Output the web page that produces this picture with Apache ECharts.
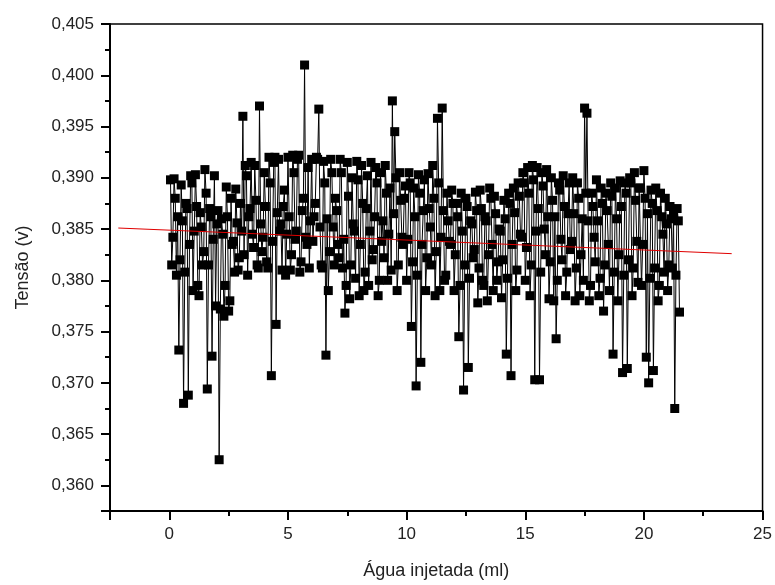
<!DOCTYPE html>
<html>
<head>
<meta charset="utf-8">
<script src="https://cdn.jsdelivr.net/npm/echarts@6/dist/echarts.min.js"></script>
<style>
  html, body { margin: 0; padding: 0; background: #fff; }
  #chart { width: 775px; height: 585px; }
</style>
</head>
<body>
<div id="chart"></div>
<script>
// agua injetada (ml)
var agua = [
  0.05, 0.10, 0.15, 0.20, 0.25, 0.30, 0.35, 0.40, 0.45, 0.50, 0.55, 0.60, 0.65, 0.70, 0.75, 0.80, 0.85, 0.90, 0.95, 1.00,
  1.05, 1.10, 1.15, 1.20, 1.25, 1.30, 1.35, 1.40, 1.45, 1.50, 1.55, 1.60, 1.65, 1.70, 1.75, 1.80, 1.85, 1.90, 1.95, 2.00,
  2.05, 2.10, 2.15, 2.20, 2.25, 2.30, 2.35, 2.40, 2.45, 2.50, 2.55, 2.60, 2.65, 2.70, 2.75, 2.80, 2.85, 2.90, 2.95, 3.00,
  3.05, 3.10, 3.15, 3.20, 3.25, 3.30, 3.35, 3.40, 3.45, 3.50, 3.55, 3.60, 3.65, 3.70, 3.75, 3.80, 3.85, 3.90, 3.95, 4.00,
  4.05, 4.10, 4.15, 4.20, 4.25, 4.30, 4.35, 4.40, 4.45, 4.50, 4.55, 4.60, 4.65, 4.70, 4.75, 4.80, 4.85, 4.90, 4.95, 5.00,
  5.05, 5.10, 5.15, 5.20, 5.25, 5.30, 5.35, 5.40, 5.45, 5.50, 5.55, 5.60, 5.65, 5.70, 5.75, 5.80, 5.85, 5.90, 5.95, 6.00,
  6.05, 6.10, 6.15, 6.20, 6.25, 6.30, 6.35, 6.40, 6.45, 6.50, 6.55, 6.60, 6.65, 6.70, 6.75, 6.80, 6.85, 6.90, 6.95, 7.00,
  7.05, 7.10, 7.15, 7.20, 7.25, 7.30, 7.35, 7.40, 7.45, 7.50, 7.55, 7.60, 7.65, 7.70, 7.75, 7.80, 7.85, 7.90, 7.95, 8.00,
  8.05, 8.10, 8.15, 8.20, 8.25, 8.30, 8.35, 8.40, 8.45, 8.50, 8.55, 8.60, 8.65, 8.70, 8.75, 8.80, 8.85, 8.90, 8.95, 9.00,
  9.05, 9.10, 9.15, 9.20, 9.25, 9.30, 9.35, 9.40, 9.45, 9.50, 9.55, 9.60, 9.65, 9.70, 9.75, 9.80, 9.85, 9.90, 9.95, 10.00,
  10.05, 10.10, 10.15, 10.20, 10.25, 10.30, 10.35, 10.40, 10.45, 10.50, 10.55, 10.60, 10.65, 10.70, 10.75, 10.80, 10.85, 10.90, 10.95, 11.00,
  11.05, 11.10, 11.15, 11.20, 11.25, 11.30, 11.35, 11.40, 11.45, 11.50, 11.55, 11.60, 11.65, 11.70, 11.75, 11.80, 11.85, 11.90, 11.95, 12.00,
  12.05, 12.10, 12.15, 12.20, 12.25, 12.30, 12.35, 12.40, 12.45, 12.50, 12.55, 12.60, 12.65, 12.70, 12.75, 12.80, 12.85, 12.90, 12.95, 13.00,
  13.05, 13.10, 13.15, 13.20, 13.25, 13.30, 13.35, 13.40, 13.45, 13.50, 13.55, 13.60, 13.65, 13.70, 13.75, 13.80, 13.85, 13.90, 13.95, 14.00,
  14.05, 14.10, 14.15, 14.20, 14.25, 14.30, 14.35, 14.40, 14.45, 14.50, 14.55, 14.60, 14.65, 14.70, 14.75, 14.80, 14.85, 14.90, 14.95, 15.00,
  15.05, 15.10, 15.15, 15.20, 15.25, 15.30, 15.35, 15.40, 15.45, 15.50, 15.55, 15.60, 15.65, 15.70, 15.75, 15.80, 15.85, 15.90, 15.95, 16.00,
  16.05, 16.10, 16.15, 16.20, 16.25, 16.30, 16.35, 16.40, 16.45, 16.50, 16.55, 16.60, 16.65, 16.70, 16.75, 16.80, 16.85, 16.90, 16.95, 17.00,
  17.05, 17.10, 17.15, 17.20, 17.25, 17.30, 17.35, 17.40, 17.45, 17.50, 17.55, 17.60, 17.65, 17.70, 17.75, 17.80, 17.85, 17.90, 17.95, 18.00,
  18.05, 18.10, 18.15, 18.20, 18.25, 18.30, 18.35, 18.40, 18.45, 18.50, 18.55, 18.60, 18.65, 18.70, 18.75, 18.80, 18.85, 18.90, 18.95, 19.00,
  19.05, 19.10, 19.15, 19.20, 19.25, 19.30, 19.35, 19.40, 19.45, 19.50, 19.55, 19.60, 19.65, 19.70, 19.75, 19.80, 19.85, 19.90, 19.95, 20.00,
  20.05, 20.10, 20.15, 20.20, 20.25, 20.30, 20.35, 20.40, 20.45, 20.50, 20.55, 20.60, 20.65, 20.70, 20.75, 20.80, 20.85, 20.90, 20.95, 21.00,
  21.05, 21.10, 21.15, 21.20, 21.25, 21.30, 21.35, 21.40, 21.45, 21.50
];
// tensao (v)
var tensao = [
  0.3898, 0.3815, 0.3842, 0.3899, 0.3880, 0.3805, 0.3862, 0.3732, 0.3820, 0.3893, 0.3858, 0.3680, 0.3808, 0.3875, 0.3870, 0.3688, 0.3835, 0.3902, 0.3895, 0.3790,
  0.3848, 0.3903, 0.3872, 0.3795, 0.3785, 0.3866, 0.3852, 0.3815, 0.3828, 0.3908, 0.3885, 0.3694, 0.3815, 0.3870, 0.3862, 0.3726, 0.3840, 0.3902, 0.3775, 0.3855,
  0.3868, 0.3625, 0.3772, 0.3860, 0.3845, 0.3765, 0.3795, 0.3891, 0.3862, 0.3770, 0.3780, 0.3880, 0.3835, 0.3838, 0.3808, 0.3889, 0.3856, 0.3810, 0.3822, 0.3875,
  0.3848, 0.3960, 0.3825, 0.3912, 0.3902, 0.3805, 0.3862, 0.3870, 0.3915, 0.3845, 0.3832, 0.3912, 0.3878, 0.3815, 0.3812, 0.3970, 0.3855, 0.3828, 0.3842, 0.3905,
  0.3872, 0.3818, 0.3812, 0.3920, 0.3895, 0.3707, 0.3838, 0.3915, 0.3920, 0.3757, 0.3866, 0.3918, 0.3848, 0.3855, 0.3810, 0.3872, 0.3888, 0.3805, 0.3845, 0.3920,
  0.3862, 0.3810, 0.3825, 0.3922, 0.3905, 0.3840, 0.3848, 0.3918, 0.3922, 0.3808, 0.3818, 0.3868, 0.3880, 0.4010, 0.3842, 0.3835, 0.3910, 0.3812, 0.3858, 0.3918,
  0.3838, 0.3862, 0.3875, 0.3920, 0.3918, 0.3967, 0.3852, 0.3815, 0.3812, 0.3916, 0.3895, 0.3727, 0.3860, 0.3790, 0.3828, 0.3918, 0.3905, 0.3852, 0.3815, 0.3880,
  0.3868, 0.3835, 0.3822, 0.3918, 0.3905, 0.3812, 0.3840, 0.3768, 0.3795, 0.3915, 0.3882, 0.3782, 0.3815, 0.3900, 0.3855, 0.3848, 0.3802, 0.3916, 0.3898, 0.3785,
  0.3835, 0.3912, 0.3875, 0.3790, 0.3808, 0.3870, 0.3902, 0.3795, 0.3848, 0.3915, 0.3820, 0.3830, 0.3862, 0.3910, 0.3895, 0.3785, 0.3800, 0.3905, 0.3838, 0.3858,
  0.3822, 0.3912, 0.3885, 0.3800, 0.3845, 0.3890, 0.3810, 0.3975, 0.3865, 0.3945, 0.3900, 0.3790, 0.3815, 0.3905, 0.3878, 0.3842, 0.3835, 0.3880, 0.3892, 0.3800,
  0.3840, 0.3905, 0.3895, 0.3755, 0.3818, 0.3890, 0.3862, 0.3697, 0.3805, 0.3903, 0.3885, 0.3720, 0.3835, 0.3868, 0.3898, 0.3790, 0.3822, 0.3904, 0.3870, 0.3852,
  0.3815, 0.3912, 0.3880, 0.3785, 0.3828, 0.3958, 0.3895, 0.3790, 0.3842, 0.3968, 0.3868, 0.3800, 0.3805, 0.3885, 0.3858, 0.3838, 0.3835, 0.3888, 0.3875, 0.3790,
  0.3825, 0.3875, 0.3862, 0.3745, 0.3795, 0.3885, 0.3848, 0.3693, 0.3815, 0.3880, 0.3872, 0.3715, 0.3802, 0.3858, 0.3855, 0.3822, 0.3830, 0.3886, 0.3868, 0.3778,
  0.3812, 0.3888, 0.3870, 0.3800, 0.3795, 0.3862, 0.3858, 0.3780, 0.3825, 0.3890, 0.3880, 0.3835, 0.3790, 0.3882, 0.3865, 0.3800, 0.3818, 0.3850, 0.3848, 0.3783,
  0.3820, 0.3878, 0.3860, 0.3728, 0.3802, 0.3885, 0.3875, 0.3707, 0.3835, 0.3890, 0.3866, 0.3790, 0.3810, 0.3895, 0.3882, 0.3845, 0.3842, 0.3905, 0.3895, 0.3800,
  0.3832, 0.3910, 0.3885, 0.3785, 0.3815, 0.3912, 0.3898, 0.3703, 0.3848, 0.3910, 0.3870, 0.3703, 0.3808, 0.3905, 0.3892, 0.3850, 0.3825, 0.3908, 0.3862, 0.3782,
  0.3818, 0.3900, 0.3878, 0.3780, 0.3862, 0.3743, 0.3800, 0.3895, 0.3888, 0.3840, 0.3820, 0.3902, 0.3872, 0.3785, 0.3808, 0.3865, 0.3895, 0.3830, 0.3838, 0.3900,
  0.3865, 0.3780, 0.3812, 0.3895, 0.3880, 0.3785, 0.3825, 0.3860, 0.3800, 0.3968, 0.3885, 0.3963, 0.3858, 0.3780, 0.3795, 0.3885, 0.3872, 0.3842, 0.3818, 0.3898,
  0.3858, 0.3785, 0.3802, 0.3890, 0.3875, 0.3770, 0.3815, 0.3885, 0.3868, 0.3835, 0.3790, 0.3895, 0.3882, 0.3728, 0.3808, 0.3890, 0.3860, 0.3780, 0.3825, 0.3897,
  0.3872, 0.3710, 0.3805, 0.3895, 0.3885, 0.3714, 0.3820, 0.3900, 0.3895, 0.3785, 0.3812, 0.3905, 0.3878, 0.3838, 0.3798, 0.3890, 0.3890, 0.3795, 0.3835, 0.3907,
  0.3880, 0.3725, 0.3865, 0.3700, 0.3802, 0.3888, 0.3875, 0.3712, 0.3812, 0.3890, 0.3868, 0.3780, 0.3795, 0.3885, 0.3862, 0.3845, 0.3808, 0.3880, 0.3855, 0.3790,
  0.3815, 0.3872, 0.3860, 0.3812, 0.3865, 0.3675, 0.3805, 0.3870, 0.3858, 0.3769
];
// linear fit (red line) end points
var ajusteX = [-2.15, 23.7];
var ajusteY = [0.3851, 0.3826];

var textColor = '#222';
var fontFam = '"Liberation Sans", Arial, sans-serif';

function fmtY(v) {
    var r = Math.round(v * 1000);
    if (Math.abs(v * 1000 - r) > 1e-6 || r % 5 !== 0) return '';
    return (r / 1000).toFixed(3).replace('.', ',');
}

var myChart = echarts.init(document.getElementById('chart'));
myChart.setOption({
    animation: false,
    backgroundColor: '#fff',
    grid: {
        left: 110, right: 10, top: 24, bottom: 72,
        show: true, borderColor: '#000', borderWidth: 1.5
    },
    xAxis: [{
        type: 'value', position: 'bottom',
        min: -2.5, max: 25, splitNumber: 5,
        axisLine: { onZero: false, lineStyle: { color: '#000', width: 2 } },
        axisTick: { show: true, length: 9, lineStyle: { color: '#000', width: 2 } },
        axisLabel: {
            color: textColor, fontSize: 17, fontFamily: fontFam, margin: 15,
            formatter: function (v) { return v % 5 === 0 ? String(v) : ''; }
        },
        splitLine: { show: false },
        name: 'Água injetada (ml)', nameLocation: 'middle', nameGap: 51,
        nameTextStyle: { color: textColor, fontSize: 18, fontFamily: fontFam }
    }, {
        type: 'value', position: 'bottom',
        min: -2.5, max: 25, interval: 2.5,
        axisLine: { show: false, onZero: false },
        axisTick: { show: true, length: 5, lineStyle: { color: '#000', width: 2 } },
        axisLabel: { show: false },
        splitLine: { show: false }
    }],
    yAxis: [{
        type: 'value', position: 'left',
        min: 0.3575, max: 0.405, splitNumber: 10,
        axisLine: { show: true, onZero: false, lineStyle: { color: '#000', width: 2 } },
        axisTick: { show: true, length: 9, lineStyle: { color: '#000', width: 2 } },
        axisLabel: {
            color: textColor, fontSize: 17, fontFamily: fontFam, margin: 16,
            formatter: fmtY
        },
        splitLine: { show: false },
        name: 'Tensão (v)', nameLocation: 'middle', nameGap: 78,
        nameTextStyle: { color: textColor, fontSize: 18, fontFamily: fontFam }
    }, {
        type: 'value', position: 'left',
        min: 0.3575, max: 0.405, interval: 0.0025,
        axisLine: { show: false, onZero: false },
        axisTick: { show: true, length: 5, lineStyle: { color: '#000', width: 2 } },
        axisLabel: { show: false },
        splitLine: { show: false }
    }],
    series: [{
        type: 'line',
        xAxisIndex: 0, yAxisIndex: 0,
        data: agua.map(function (x, i) { return [x, tensao[i]]; }),
        symbol: 'rect',
        symbolSize: 9,
        showAllSymbol: true,
        itemStyle: { color: '#000' },
        lineStyle: { color: '#000', width: 1 },
        z: 2
    }, {
        type: 'line',
        xAxisIndex: 0, yAxisIndex: 0,
        data: ajusteX.map(function (x, i) { return [x, ajusteY[i]]; }),
        symbol: 'none',
        lineStyle: { color: '#e00000', width: 1 },
        z: 3
    }]
});
</script>
</body>
</html>
